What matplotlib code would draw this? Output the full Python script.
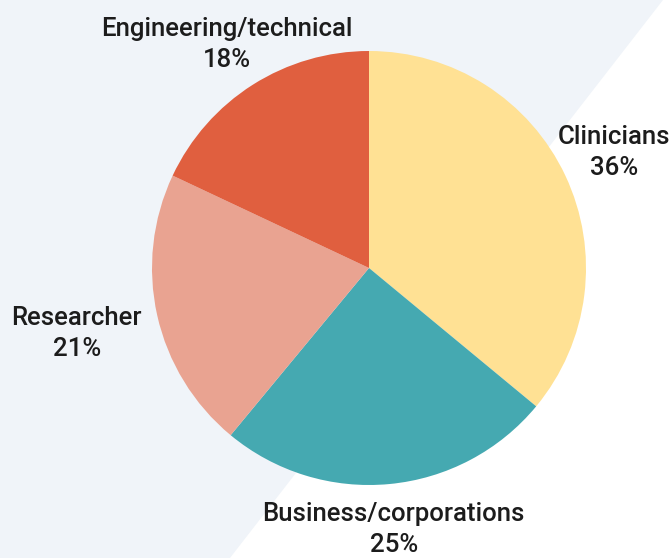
import numpy as np
import matplotlib
matplotlib.use('Agg')
import matplotlib.pyplot as plt
from matplotlib.patches import Polygon

# Data
categories = ['Clinicians', 'Business/corporations', 'Researcher', 'Engineering/technical']
shares = [36, 25, 21, 18]
colors = ['#FFE194', '#45A9B1', '#E9A391', '#E05F3F']
# label distance from centre, as multiple of radius
label_dist = [1.25, 1.21, 1.38, 1.22]

W, H = 672, 558
plt.rcParams['font.family'] = ['Roboto', 'DejaVu Sans']

fig = plt.figure(figsize=(W / 100, H / 100), dpi=100)
fig.patch.set_facecolor('white')

# Diagonal light background band
ax = fig.add_axes([0, 0, 1, 1])
ax.set_xlim(0, W)
ax.set_ylim(0, H)
ax.add_patch(Polygon([(0, H), (663, H), (230, 0), (0, 0)], closed=True,
                     facecolor='#F0F4F9', edgecolor='none', zorder=0))

cx, cy, r = 369, H - 268, 217
wedges, _ = ax.pie(shares, colors=colors, startangle=90, counterclock=False,
                   center=(cx, cy), radius=r, frame=True,
                   wedgeprops=dict(linewidth=0))
for w in wedges:
    w.set_zorder(2)

for w, cat, val, d in zip(wedges, categories, shares, label_dist):
    mid = np.deg2rad((w.theta1 + w.theta2) / 2)
    x = cx + d * r * np.cos(mid)
    y = cy + d * r * np.sin(mid)
    ax.text(x, y, f'{cat}\n{val}%', ha='center', va='center', fontsize=18.5,
            fontweight='medium', color='#1c1c1c', linespacing=1.38, zorder=3)

ax.set_xlim(0, W)
ax.set_ylim(0, H)
ax.set_aspect('auto')
ax.axis('off')

fig.savefig('out.png', dpi=100, facecolor=fig.get_facecolor())
